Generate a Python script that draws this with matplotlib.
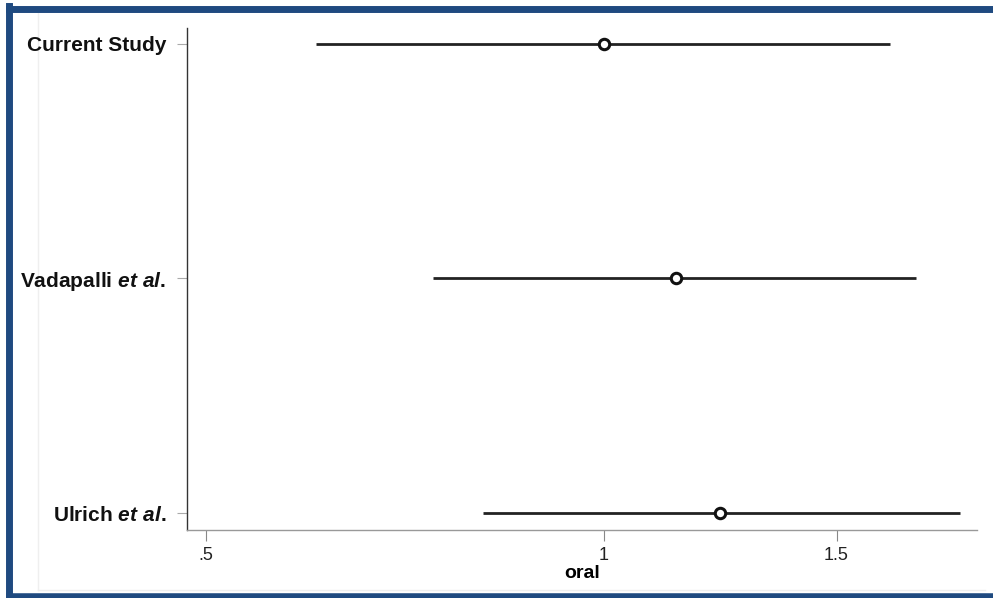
import numpy as np
import matplotlib
matplotlib.use("Agg")
import matplotlib.pyplot as plt
from matplotlib.lines import Line2D

plt.rcParams["font.family"] = ["Liberation Sans", "DejaVu Sans"]
plt.rcParams["mathtext.fontset"] = "custom"
plt.rcParams["mathtext.it"] = "Liberation Sans:italic:bold"
plt.rcParams["mathtext.rm"] = "Liberation Sans:bold"

# =============================================================================
# Data (odds ratios with confidence intervals)
# =============================================================================

studies  = ["Current Study", r"Vadapalli $\mathit{et\ al.}$", r"Ulrich $\mathit{et\ al.}$"]
estimate = [1.00, 1.134, 1.224]
ci_low   = [0.605, 0.742, 0.810]
ci_high  = [1.646, 1.722, 1.859]
xticks   = [0.5, 1.0, 1.5]
xlabels  = [".5", "1", "1.5"]

# =============================================================================
# Plot
# =============================================================================

fig = plt.figure(figsize=(9.93, 5.98), dpi=100)
W, H = 993, 598

# faint inner frame (left and bottom), drawn underneath everything
for xs, ys in [([38 / W, 38 / W], [8 / H, 585 / H]),
               ([38 / W, 985 / W], [8 / H, 8 / H])]:
    fig.add_artist(Line2D(xs, ys, transform=fig.transFigure, color="#efefef",
                          linewidth=1.0, zorder=-5))

ax = fig.add_axes([0.1883, 0.1137, 0.7956, 0.8395])
ax.patch.set_alpha(0)

ypos = np.arange(len(studies), 0, -1)

for y, est, lo, hi in zip(ypos, estimate, ci_low, ci_high):
    ax.plot([lo, hi], [y, y], color="#222222", linewidth=2.0, solid_capstyle="butt", zorder=2)
    ax.plot(est, y, marker="o", markersize=7.5, markerfacecolor="white",
            markeredgecolor="#111111", markeredgewidth=2.2, zorder=3)

ax.set_xscale("log")
ax.set_xlim(0.4836, 1.916)
ax.set_ylim(0.9275, 3.068)

ax.set_xticks(xticks)
ax.set_xticklabels(xlabels, fontsize=13, color="#222222")
ax.xaxis.set_minor_locator(matplotlib.ticker.NullLocator())
ax.set_yticks(ypos)
ax.set_yticklabels(studies, fontsize=15, fontweight="bold", color="#111111")

ax.tick_params(axis="x", length=8, width=0.8, color="#888888", pad=4)
ax.tick_params(axis="y", length=7, width=0.8, color="#aaaaaa", pad=8)
ax.set_xlabel("oral", fontsize=14, fontweight="bold", labelpad=1)

for side in ("top", "right"):
    ax.spines[side].set_visible(False)
ax.spines["left"].set_color("#333333")
ax.spines["left"].set_linewidth(1.0)
ax.spines["bottom"].set_color("#999999")
ax.spines["bottom"].set_linewidth(1.0)

# blue outer border (top, left, bottom)
border = [([8.5 / W, 1.0], [589.5 / H, 589.5 / H], 5.0),
          ([8.5 / W, 8.5 / W], [2 / H, 592 / H], 5.0),
          ([8.5 / W, 1.0], [2.5 / H, 2.5 / H], 4.0)]
for xs, ys, lw in border:
    fig.add_artist(Line2D(xs, ys, transform=fig.transFigure, color="#1f4a80",
                          linewidth=lw, solid_capstyle="projecting"))

fig.savefig("out.png", dpi=100)
